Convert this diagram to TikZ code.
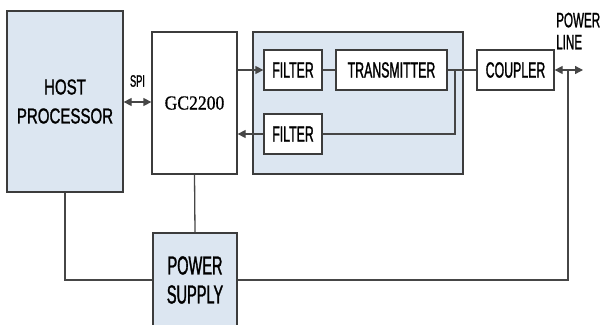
\documentclass[tikz,border=0pt]{standalone}
\usepackage{fontspec}
\usetikzlibrary{arrows.meta}
\newfontfamily\condfont[FakeStretch=0.56, FakeBold=1.2]{Liberation Sans}
\newfontfamily\hostfont[FakeStretch=0.70, FakeBold=1.2]{Liberation Sans}
\newfontfamily\chipfont[FakeStretch=0.88, FakeBold=0.6]{Liberation Serif}
\definecolor{boxblue}{RGB}{220,230,241}
\definecolor{edgegray}{RGB}{60,60,60}
\definecolor{wiregray}{RGB}{70,70,70}

\begin{document}
\begin{tikzpicture}[x=1pt, y=-1pt,
  bx/.style={draw=edgegray, line width=1.3pt, fill=white, inner sep=0pt, align=center,
    font=\condfont\fontsize{22}{26}\selectfont},
  bluebx/.style={bx, fill=boxblue},
  wire/.style={draw=wiregray, line width=1.3pt},
  arr/.style={wire, -{Triangle[length=8pt,width=8pt]}},
  dbl/.style={wire, {Triangle[length=8pt,width=8pt]}-{Triangle[length=8pt,width=8pt]}}]

\useasboundingbox (0,0) rectangle (601,324);
\clip (0,0) rectangle (601,324);

% Host and modem chip
\node[bluebx, minimum width=116pt, minimum height=181pt,
  font=\hostfont\fontsize{21.5}{29}\selectfont] (host) at (65,101.5) {HOST\\PROCESSOR};
\node[bx, minimum width=85pt, minimum height=142pt,
  font=\chipfont\fontsize{20}{24}\selectfont] (gc) at (194.5,103) {GC2200};
\node[font=\condfont\fontsize{16.5}{20}\selectfont, inner sep=0pt] (spi) at (137.5,81) {SPI};

% Analog front end
\node[bluebx, minimum width=210pt, minimum height=142pt] (afe) at (358,103) {};
\node[bx, minimum width=58pt, minimum height=40pt] (filt1) at (293,70) {FILTER};
\node[bx, minimum width=111pt, minimum height=40pt] (tx) at (391.5,70) {TRANSMITTER};
\node[bx, minimum width=58pt, minimum height=40pt] (filt2) at (293,134) {FILTER};

% Line side
\node[bx, minimum width=77pt, minimum height=40pt] (coupler) at (515.5,70) {COUPLER};
\node[anchor=west, align=left, inner sep=0pt,
  font=\condfont\fontsize{20.8}{22}\selectfont] (pwrline) at (556,31) {POWER\\LINE};

% Supply
\node[bluebx, minimum width=84pt, minimum height=94pt,
  font=\condfont\fontsize{26}{29}\selectfont] (psu) at (195,280) {POWER\\SUPPLY};

\coordinate (txtap) at (455,70);
\coordinate (pl) at (583,70);
\coordinate (pltap) at (568,70);

% Signal path
\draw[dbl] (host.east |- 0,102) -- (gc.west |- 0,102);
\draw[arr] (gc.east |- filt1.west) -- (filt1.west);
\draw[arr] (filt2.west) -- (filt2.west -| gc.east);
\draw[wire] (filt1) -- (tx);
\draw[wire] (tx.east) -- (coupler.west);
\draw[wire] (txtap) |- (filt2.east);
\draw[dbl] (coupler.east) -- (pl);

% Supply wiring
\draw[wire] (host.south) |- (psu.west);
\draw[wire] (gc.south) -- (psu.north);
\draw[wire] (pltap) |- (psu.east);

\end{tikzpicture}
\end{document}
